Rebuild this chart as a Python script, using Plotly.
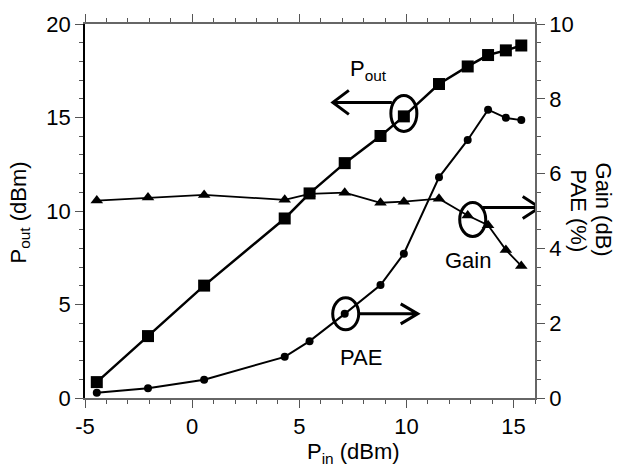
import plotly.graph_objects as go

# ---- data ----
pin = [-4.45, -2.06, 0.56, 4.32, 5.48, 7.12, 8.79, 9.88, 11.52, 12.86, 13.81, 14.64, 15.36]
pout = [0.85, 3.31, 6.01, 9.60, 10.94, 12.56, 14.01, 15.06, 16.79, 17.73, 18.34, 18.59, 18.85]
gain = [5.28, 5.36, 5.43, 5.30, 5.46, 5.49, 5.22, 5.25, 5.33, 4.88, 4.62, 3.96, 3.53]
pae = [0.14, 0.26, 0.49, 1.10, 1.52, 2.25, 3.02, 3.86, 5.90, 6.90, 7.71, 7.49, 7.43]

x_ticks = [-5, 0, 5, 10, 15]
x_ticktext = ["-5", "0", "5", "10", "15"]
y_ticks = [0, 5, 10, 15, 20]
y2_ticks = [0, 2, 4, 6, 8, 10]

FONT = "Liberation Sans, Arial, sans-serif"
FS = 22

fig = go.Figure()
fig.add_trace(go.Scatter(x=pin, y=pout, mode="lines+markers",
                         line=dict(color="black", width=2.5),
                         marker=dict(symbol="square", size=12, color="black"),
                         yaxis="y"))
fig.add_trace(go.Scatter(x=pin, y=gain, mode="lines+markers",
                         line=dict(color="black", width=1.8),
                         marker=dict(symbol="triangle-up", size=11, color="black"),
                         yaxis="y2"))
fig.add_trace(go.Scatter(x=pin, y=pae, mode="lines+markers",
                         line=dict(color="black", width=2),
                         marker=dict(symbol="circle", size=8, color="black"),
                         yaxis="y2"))

L, R, T, B = 85, 82, 19, 74
W, H = 617, 472
pw, ph = W - L - R, H - T - B


def px(xp):
    return (xp - L) / pw


def py(yp):
    return (H - B - yp) / ph


tickfont = dict(family=FONT, size=FS, color="black")
axis_common = dict(ticks="outside", ticklen=8, tickwidth=1.2, tickcolor="#555",
                   showgrid=False, zeroline=False, showline=True, linewidth=1.5,
                   tickfont=tickfont)

fig.update_layout(
    width=W, height=H,
    margin=dict(l=L, r=R, t=T, b=B),
    paper_bgcolor="white", plot_bgcolor="white",
    showlegend=False,
    font=dict(family=FONT, size=FS, color="black"),
    xaxis=dict(range=[-5, 16], tickvals=x_ticks, ticktext=x_ticktext,
               linecolor="#666", mirror="ticks",
               minor=dict(dtick=1, ticklen=4, tickcolor="#555", ticks="outside"),
               **axis_common),
    yaxis=dict(range=[0, 20], tickvals=y_ticks, linecolor="black",
               minor=dict(dtick=1, ticklen=4, tickcolor="#555", ticks="outside"),
               **axis_common),
    yaxis2=dict(range=[0, 10], tickvals=y2_ticks, overlaying="y", side="right",
                linecolor="#666",
                minor=dict(dtick=0.5, ticklen=4, tickcolor="#555", ticks="outside"),
                **axis_common),
)

# ellipses around highlighted points
ellipses = [
    ("y", pin[7], pout[7], 0, 3, 13, 18),
    ("y2", pin[9], gain[9], 5, -4, 13, 17),
    ("y2", pin[5], pae[5], 1, 0, 13, 16),
]
for yref, xa, ya, dx, dy, rx, ry in ellipses:
    fig.add_shape(type="circle", xref="x", yref=yref, xsizemode="pixel", ysizemode="pixel",
                  xanchor=xa, yanchor=ya, x0=dx - rx, x1=dx + rx, y0=dy - ry, y1=dy + ry,
                  line=dict(color="black", width=3))

# open-headed arrows (pixel offsets from the highlighted point)
arrows = [
    ("y", pin[7], pout[7], "M -12 14 L -71 14 M -55 26 L -71 14 L -55 2"),
    ("y2", pin[9], gain[9], "M 15 8 L 72 8 M 55 19 L 72 8 L 55 -3"),
    ("y2", pin[5], pae[5], "M 14 0 L 73 0 M 56 10 L 73 0 L 56 -10"),
]
for yref, xa, ya, path in arrows:
    fig.add_shape(type="path", xref="x", yref=yref, xsizemode="pixel", ysizemode="pixel",
                  xanchor=xa, yanchor=ya, path=path,
                  line=dict(color="black", width=3))

labels = [
    ("P<sub>out</sub>", 348, 66, "left"),
    ("Gain", 468, 259, "center"),
    ("PAE", 361, 357, "center"),
]
for txt, xp, yp, xa in labels:
    fig.add_annotation(text=txt, x=px(xp), y=py(yp), xref="paper", yref="paper",
                       xanchor=xa, yanchor="middle", showarrow=False,
                       font=dict(family=FONT, size=FS, color="black"))

# axis titles
fig.add_annotation(text="P<sub>in</sub> (dBm)", x=px(353), y=py(454), xref="paper", yref="paper",
                   xanchor="center", yanchor="middle", showarrow=False,
                   font=dict(family=FONT, size=FS, color="black"))
fig.add_annotation(text="P<sub>out</sub> (dBm)", x=px(20), y=py(210), xref="paper", yref="paper",
                   xanchor="center", yanchor="middle", showarrow=False, textangle=-90,
                   font=dict(family=FONT, size=FS, color="black"))
fig.add_annotation(text="Gain (dB)", x=px(603), y=py(207), xref="paper", yref="paper",
                   xanchor="center", yanchor="middle", showarrow=False, textangle=90,
                   font=dict(family=FONT, size=FS, color="black"))
fig.add_annotation(text="PAE (%)", x=px(578), y=py(208), xref="paper", yref="paper",
                   xanchor="center", yanchor="middle", showarrow=False, textangle=90,
                   font=dict(family=FONT, size=FS, color="black"))

fig.write_html("out.html", config={"displayModeBar": False})

# remove default page margin so the figure sits at the window origin
with open("out.html", "r", encoding="utf-8") as f:
    html = f.read()
html = html.replace("<head>", "<head><style>html,body{margin:0;padding:0;overflow:hidden;}</style>", 1)
with open("out.html", "w", encoding="utf-8") as f:
    f.write(html)
